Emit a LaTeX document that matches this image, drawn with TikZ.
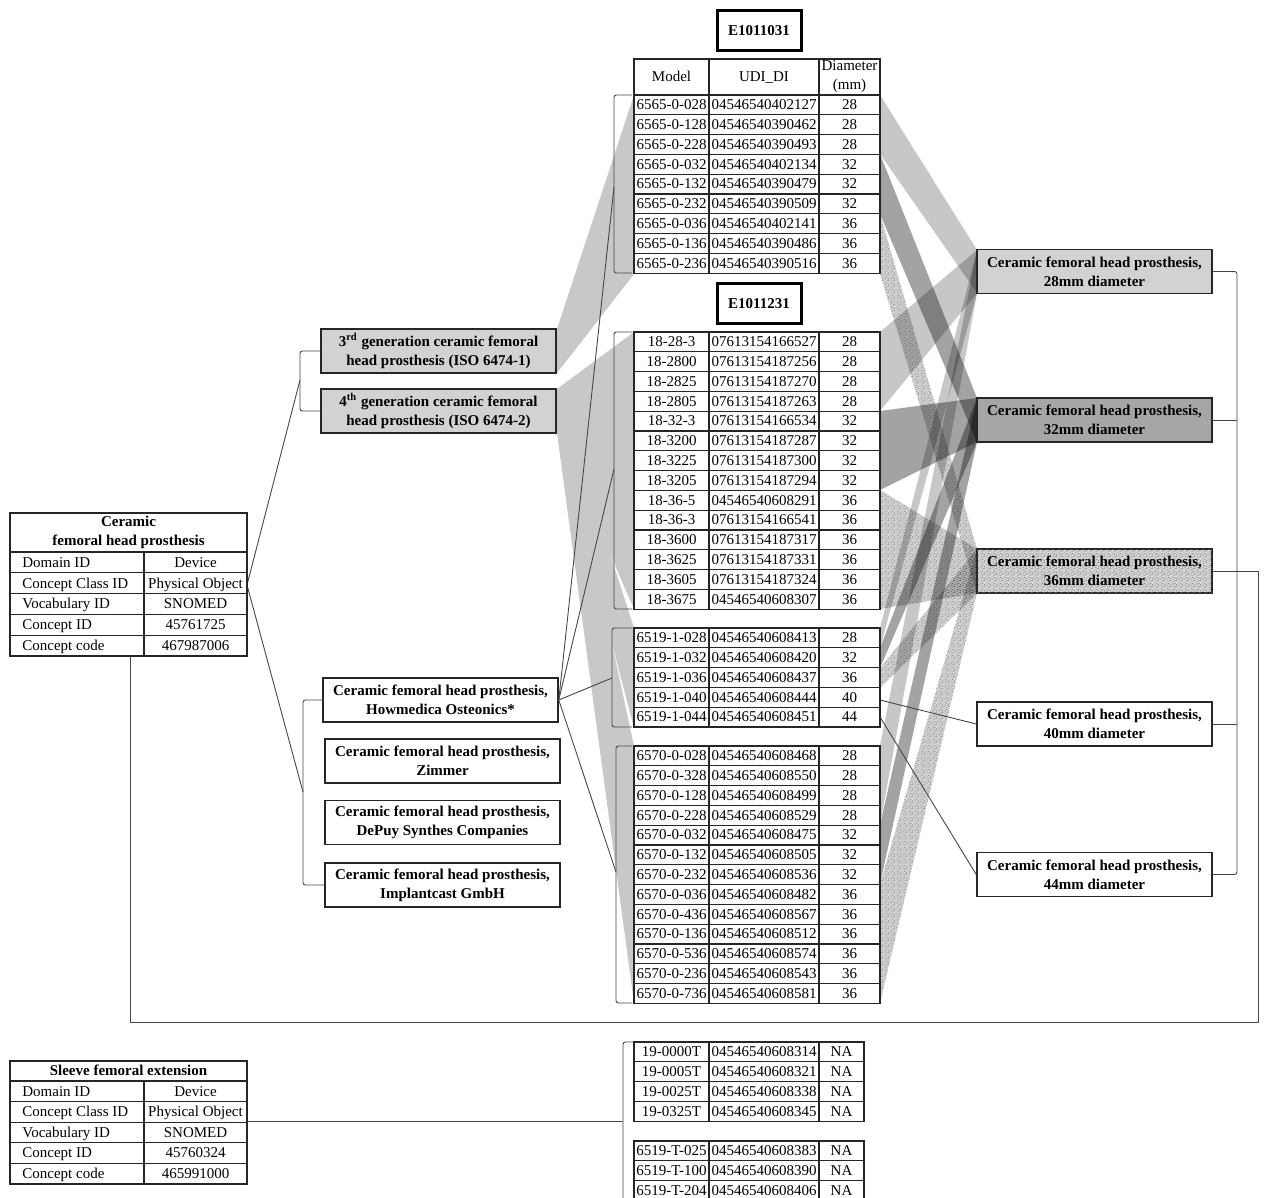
\documentclass[tikz,border=0pt]{standalone}
\usepackage{fontspec}
\setmainfont{Liberation Serif}
\usetikzlibrary{patterns}
\pgfdeclarepatternformonly{speckle}{\pgfqpoint{-0.5pt}{-0.5pt}}{\pgfqpoint{3.5pt}{3.5pt}}{\pgfqpoint{3pt}{3pt}}{%
  \pgfpathcircle{\pgfqpoint{0.3pt}{0.6pt}}{0.3pt}
  \pgfpathcircle{\pgfqpoint{1.5pt}{0.2pt}}{0.25pt}
  \pgfpathcircle{\pgfqpoint{2.4pt}{1.1pt}}{0.3pt}
  \pgfpathcircle{\pgfqpoint{1.0pt}{1.6pt}}{0.25pt}
  \pgfpathcircle{\pgfqpoint{2.0pt}{2.3pt}}{0.3pt}
  \pgfpathcircle{\pgfqpoint{0.4pt}{2.7pt}}{0.25pt}
  \pgfpathcircle{\pgfqpoint{2.8pt}{2.8pt}}{0.2pt}
  \pgfpathcircle{\pgfqpoint{1.6pt}{1.0pt}}{0.2pt}
  \pgfusepath{fill}
}
\definecolor{wedge}{RGB}{200,200,200}
\definecolor{box28}{RGB}{210,210,210}
\definecolor{box32}{RGB}{166,166,166}
\definecolor{box36}{RGB}{215,215,215}

% #1 prefix, #2 top y, #3 right x, #4 list model/udi/diameter
\newcommand{\udtable}[4]{%
  \foreach \tm/\tu/\td [count=\i from 0] in {#4} {
    \pgfmathsetmacro{\yt}{#2+19.8*\i}
    \pgfmathsetmacro{\yb}{\yt+19.8}
    \pgfmathsetmacro{\yc}{\yt+9.9}
    \pgfmathsetmacro{\xd}{(819+#3)/2}
    \draw[tbl, fill=white] (634,\yt) rectangle (#3,\yb);
    \draw[tbl] (709,\yt) -- (709,\yb) (819,\yt) -- (819,\yb);
    \node[cell] (#1m\i) at (671.5,\yc) {\tm};
    \node[cell] (#1u\i) at (764,\yc) {\tu};
    \node[cell] (#1d\i) at (\xd,\yc) {\td};
  }}
% band from table edge x=880 to box edge x=977
\newcommand{\band}[5]{\path[#1] (880,#2) -- (977,#4) -- (977,#5) -- (880,#3) -- cycle;}

\begin{document}
\begin{tikzpicture}[x=0.5pt,y=-0.5pt,
  font=\fontsize{7.5}{9.5}\selectfont,
  conn/.style={draw=black!72, line width=0.45pt},
  brk/.style={conn, rounded corners=1.2pt},
  tbl/.style={draw=black!85, line width=0.65pt},
  cell/.style={inner sep=0pt, text height=5.1pt, text depth=0.3pt},
  hbox/.style={draw=black!85, line width=0.75pt, inner sep=0pt, minimum width=117.5pt,
     minimum height=22pt, align=center, font=\fontsize{7.5}{9.5}\selectfont\bfseries},
  ebox/.style={draw=black, line width=1.5pt, inner sep=0pt, minimum width=42pt,
     minimum height=20pt, font=\fontsize{7.5}{9.5}\selectfont\bfseries},
  wg/.style={fill=wedge},
  lb/.style={fill=black, fill opacity=0.22},
  db/.style={fill=black, fill opacity=0.36},
  sb/.style={fill=black, fill opacity=0.17, postaction={fill opacity=0.5, pattern=speckle, pattern color=black!80}},
]
\useasboundingbox (0,0) rectangle (1264,1198);

% ---------- left wedges (generation -> tables)
\fill[wedge] (557,329) -- (634,95) -- (634,274) -- (557,373) -- cycle;
\path[wg] (557,389) -- (634,332) -- (634,609) -- (557,433) -- cycle;
\path[wg] (557,389) -- (634,628) -- (634,728) -- (557,433) -- cycle;
\path[wg] (557,389) -- (634,746) -- (634,1003) -- (557,433) -- cycle;

% ---------- right bands (diameter rows -> diameter boxes)
\band{lb}{95}{154}{250}{293}
\band{lb}{332}{411}{250}{293}
\band{lb}{628}{648}{250}{293}
\band{lb}{746}{825}{250}{293}
\band{db}{154}{214}{398}{442}
\band{db}{411}{490}{398}{442}
\band{db}{648}{668}{398}{442}
\band{db}{825}{884}{398}{442}
\band{sb}{214}{274}{549}{593}
\band{sb}{490}{609}{549}{593}
\band{sb}{668}{688}{549}{593}
\band{sb}{884}{1003}{549}{593}

% ---------- boxes
\node[hbox, fill=box28] (gen3) at (438.5,351) {3\textsuperscript{rd} generation ceramic femoral\\head prosthesis (ISO 6474-1)};
\node[hbox, fill=box28] (gen4) at (438.5,411) {4\textsuperscript{th} generation ceramic femoral\\head prosthesis (ISO 6474-2)};
\node[hbox, fill=white] (how) at (440.5,700) {Ceramic femoral head prosthesis,\\Howmedica Osteonics*};
\node[hbox, fill=white] (zim) at (442.5,761) {Ceramic femoral head prosthesis,\\Zimmer};
\node[hbox, fill=white] (dep) at (442.5,822.5) {Ceramic femoral head prosthesis,\\DePuy Synthes Companies};
\node[hbox, fill=white] (imp) at (442.5,885) {Ceramic femoral head prosthesis,\\Implantcast GmbH};

\node[hbox, fill=box28] (b28) at (1094.5,271.5) {Ceramic femoral head prosthesis,\\28mm diameter};
\node[hbox, fill=box32] (b32) at (1094.5,420) {Ceramic femoral head prosthesis,\\32mm diameter};
\node[hbox, fill=box36, postaction={pattern=speckle, pattern color=black!55}] (b36) at (1094.5,571) {};
\node[font=\fontsize{7.5}{9.5}\selectfont\bfseries, align=center, inner sep=0pt] (b36t) at (b36.center) {Ceramic femoral head prosthesis,\\36mm diameter};
\node[hbox, fill=white] (b40) at (1094.5,724) {Ceramic femoral head prosthesis,\\40mm diameter};
\node[hbox, fill=white] (b44) at (1094.5,874.5) {Ceramic femoral head prosthesis,\\44mm diameter};

% ---------- coordinates for connectors
\coordinate (ctr) at (247,585);
\coordinate (ctb) at (130,656);
\coordinate (kgen) at (300,380);
\coordinate (kbr) at (303,792);
\coordinate (k1) at (614,187);
\coordinate (k2) at (614,469);
\coordinate (k3) at (612,678);
\coordinate (k4) at (616,872);
\coordinate (r40) at (880,700);
\coordinate (r44) at (880,717);
\coordinate (str) at (247,1121);
\coordinate (k5) at (623,1121);

% ---------- connectors
\draw[brk] (gen3.west) -- (300,351) -- (300,411) -- (gen4.west);
\draw[brk] (how.west) -- (303,700) -- (303,885) -- (imp.west);
\draw[conn] (ctr) -- (kgen);
\draw[conn] (ctr) -- (kbr);
\draw[brk] (632,95) -- (614,95) -- (614,273) -- (632,273);
\draw[brk] (632,332) -- (614,332) -- (614,609) -- (632,609);
\draw[brk] (632,628) -- (612,628) -- (612,727) -- (632,727);
\draw[brk] (632,746) -- (616,746) -- (616,1003) -- (632,1003);
\draw[conn] (how.east) -- (k1);
\draw[conn] (how.east) -- (k2);
\draw[conn] (how.east) -- (k3);
\draw[conn] (how.east) -- (k4);
\draw[conn] (r40) -- (b40.west);
\draw[conn] (r44) -- (b44.west);
\draw[brk] (b28.east) -- (1237,271.5) -- (1237,874.5) -- (b44.east);
\draw[conn] (b32.east) -- (1237,420);
\draw[conn] (b40.east) -- (1237,724);
\draw[conn] (b36.east) -- (1258,571) -- (1258,1022) -- (130,1022) -- (ctb);
\draw[conn] (str) -- (k5);
\draw[brk] (633,1042) -- (623,1042) -- (623,1210);

% ---------- code boxes
\node[ebox] (e1) at (759,31) {E1011031};
\node[ebox] (e2) at (759,304) {E1011231};

% ---------- UDI tables
\draw[tbl, fill=white] (634,59) rectangle (880,95);
\draw[tbl] (709,59) -- (709,95) (819,59) -- (819,95);
\node[cell] (hm) at (671.5,77) {Model};
\node[cell] (hu) at (764,77) {UDI\_DI};
\node[align=center, inner sep=0pt] (hd) at (849.5,77) {Diameter\\(mm)};

\udtable{a}{95}{880}{6565-0-028/04546540402127/28,6565-0-128/04546540390462/28,6565-0-228/04546540390493/28,6565-0-032/04546540402134/32,6565-0-132/04546540390479/32,6565-0-232/04546540390509/32,6565-0-036/04546540402141/36,6565-0-136/04546540390486/36,6565-0-236/04546540390516/36}
\udtable{b}{332}{880}{18-28-3/07613154166527/28,18-2800/07613154187256/28,18-2825/07613154187270/28,18-2805/07613154187263/28,18-32-3/07613154166534/32,18-3200/07613154187287/32,18-3225/07613154187300/32,18-3205/07613154187294/32,18-36-5/04546540608291/36,18-36-3/07613154166541/36,18-3600/07613154187317/36,18-3625/07613154187331/36,18-3605/07613154187324/36,18-3675/04546540608307/36}
\udtable{c}{628}{880}{6519-1-028/04546540608413/28,6519-1-032/04546540608420/32,6519-1-036/04546540608437/36,6519-1-040/04546540608444/40,6519-1-044/04546540608451/44}
\udtable{d}{746}{880}{6570-0-028/04546540608468/28,6570-0-328/04546540608550/28,6570-0-128/04546540608499/28,6570-0-228/04546540608529/28,6570-0-032/04546540608475/32,6570-0-132/04546540608505/32,6570-0-232/04546540608536/32,6570-0-036/04546540608482/36,6570-0-436/04546540608567/36,6570-0-136/04546540608512/36,6570-0-536/04546540608574/36,6570-0-236/04546540608543/36,6570-0-736/04546540608581/36}
\udtable{e}{1042}{864}{19-0000T/04546540608314/NA,19-0005T/04546540608321/NA,19-0025T/04546540608338/NA,19-0325T/04546540608345/NA}
\udtable{f}{1141}{864}{6519-T-025/04546540608383/NA,6519-T-100/04546540608390/NA,6519-T-204/04546540608406/NA}

% ---------- concept tables
\draw[tbl, fill=white] (10,513) rectangle (247,656);
\draw[tbl] (10,552) -- (247,552);
\foreach \yy in {572.8,593.6,614.4,635.2} \draw[tbl] (10,\yy) -- (247,\yy);
\draw[tbl] (144,552) -- (144,656);
\node[align=center, inner sep=0pt, font=\fontsize{7.5}{9.5}\selectfont\bfseries] (cth) at (128.5,532.5) {Ceramic\\femoral head prosthesis};
\foreach \lab/\val [count=\i from 0] in {Domain ID/Device,Concept Class ID/Physical Object,Vocabulary ID/SNOMED,Concept ID/45761725,Concept code/467987006} {
  \pgfmathsetmacro{\yc}{562.4+20.8*\i}
  \node[cell, anchor=west] (cl\i) at (22,\yc) {\lab};
  \node[cell] (cv\i) at (195.5,\yc) {\val};
}

\draw[tbl, fill=white] (10,1061) rectangle (247,1184);
\draw[tbl] (10,1081) -- (247,1081);
\foreach \yy in {1101.6,1122.2,1142.8,1163.4} \draw[tbl] (10,\yy) -- (247,\yy);
\draw[tbl] (144,1081) -- (144,1184);
\node[cell, font=\fontsize{7.5}{9.5}\selectfont\bfseries] (sth) at (128.5,1071) {Sleeve femoral extension};
\foreach \lab/\val [count=\i from 0] in {Domain ID/Device,Concept Class ID/Physical Object,Vocabulary ID/SNOMED,Concept ID/45760324,Concept code/465991000} {
  \pgfmathsetmacro{\yc}{1091.3+20.6*\i}
  \node[cell, anchor=west] (sl\i) at (22,\yc) {\lab};
  \node[cell] (sv\i) at (195.5,\yc) {\val};
}
\end{tikzpicture}
\end{document}
